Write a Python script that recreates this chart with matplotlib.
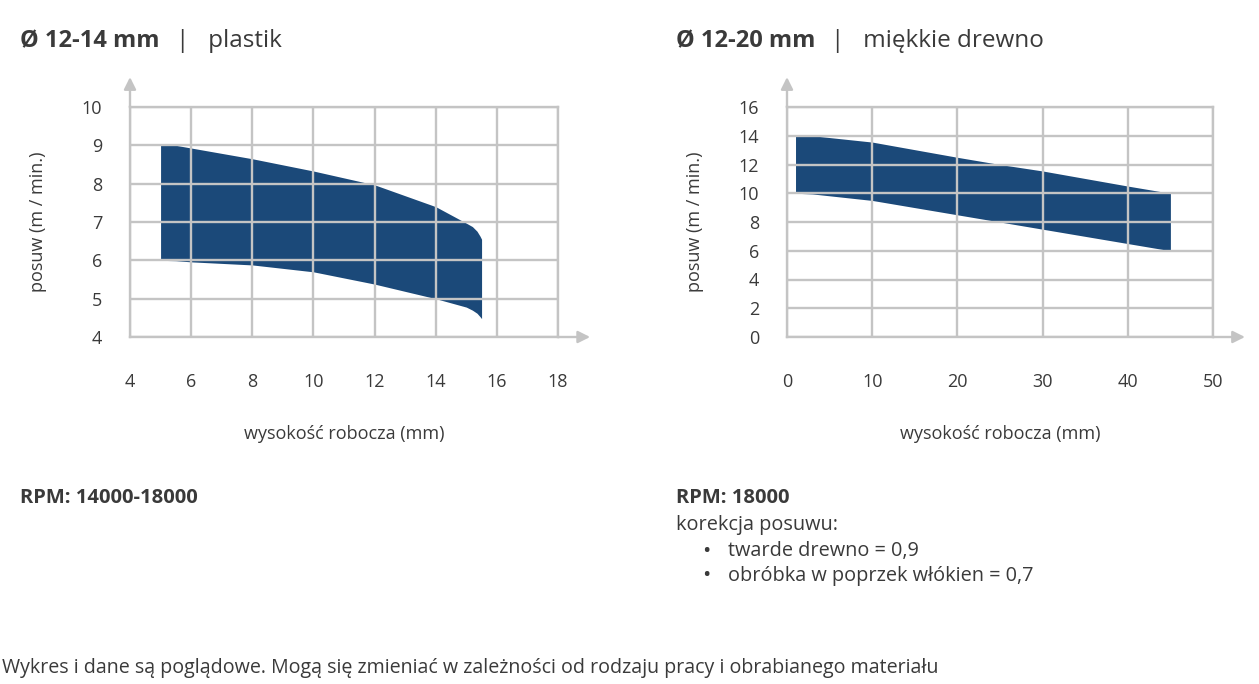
import matplotlib
matplotlib.use("Agg")
import matplotlib.pyplot as plt

plt.rcParams['font.family'] = ['Open Sans', 'DejaVu Sans']

# left chart: plastik
plastic_x = [5, 5.5, 6, 8, 10, 12, 14, 15, 15.2, 15.35, 15.45, 15.5]
plastic_upper = [9.0, 9.0, 8.93, 8.65, 8.33, 7.97, 7.4, 6.97, 6.88, 6.76, 6.63, 6.55]
plastic_lower = [6.0, 5.99, 5.96, 5.88, 5.7, 5.38, 5.0, 4.78, 4.7, 4.62, 4.53, 4.48]
plastic_xticks = [4, 6, 8, 10, 12, 14, 16, 18]
plastic_yticks = [4, 5, 6, 7, 8, 9, 10]

# right chart: miekkie drewno
wood_x = [1, 3, 10, 20, 25, 30, 40, 45]
wood_upper = [14.0, 14.0, 13.56, 12.5, 12.0, 11.55, 10.5, 10.0]
wood_lower = [10.0, 9.95, 9.5, 8.5, 8.0, 7.5, 6.5, 6.0]
wood_xticks = [0, 10, 20, 30, 40, 50]
wood_yticks = [0, 2, 4, 6, 8, 10, 12, 14, 16]

fill_color = "#1b4979"
grid_color = "#c4c4c4"
text_color = "#3a3a3a"

W, H = 1259, 684
fig = plt.figure(figsize=(W / 100, H / 100), dpi=100)


def make_chart(rect, x, lower, upper, xticks, yticks):
    ax = fig.add_axes(rect)
    ax.fill_between(x, lower, upper, color=fill_color, lw=0, zorder=1)
    ax.set_xlim(xticks[0], xticks[-1])
    ax.set_ylim(yticks[0], yticks[-1])
    ax.set_xticks(xticks)
    ax.set_yticks(yticks)
    ax.grid(True, color=grid_color, lw=1.7, zorder=2)
    ax.set_axisbelow(False)
    for s in ax.spines.values():
        s.set_color(grid_color)
        s.set_linewidth(1.7)
        s.set_zorder(3)
    ax.tick_params(length=0, labelsize=13, labelcolor=text_color)
    ax.tick_params(axis='x', pad=26)
    ax.tick_params(axis='y', pad=20)
    ax.set_xlabel("wysokość robocza (mm)", fontsize=13, color=text_color)
    ax.set_ylabel("posuw (m / min.)", fontsize=13, color=text_color)
    ax.xaxis.set_label_coords(0.5, -0.42)
    ax.xaxis.label.set_va('center')
    ax.yaxis.set_label_coords(-0.215, 0.5)
    ax.yaxis.label.set_va('center')
    # axis arrows
    arrow = dict(arrowstyle='-|>', color=grid_color, lw=1.7,
                 mutation_scale=18, shrinkA=0, shrinkB=0)
    ax.annotate('', xy=(0, 1.13), xytext=(0, 1.0), xycoords='axes fraction',
                arrowprops=arrow, annotation_clip=False)
    ax.annotate('', xy=(1.075, 0), xytext=(1.0, 0), xycoords='axes fraction',
                arrowprops=arrow, annotation_clip=False)
    return ax


bottom = 1 - 337 / H
height = 230 / H
make_chart([130 / W, bottom, 428 / W, height],
           plastic_x, plastic_lower, plastic_upper, plastic_xticks, plastic_yticks)
make_chart([787 / W, bottom, 426 / W, height],
           wood_x, wood_lower, wood_upper, wood_xticks, wood_yticks)

# titles
def title(x, bold, rest):
    t = fig.text(x / W, 1 - 41 / H, bold, fontsize=17, fontweight='bold',
                 color=text_color, va='center')
    fig.canvas.draw()
    bb = t.get_window_extent()
    fig.text((bb.x1 + 16) / W, 1 - 41 / H, "|   " + rest,
             fontsize=17.5, color=text_color, va='center')


title(20, "Ø 12-14 mm", "plastik")
title(676, "Ø 12-20 mm", "miękkie drewno")

fig.text(20 / W, 1 - 498 / H, "RPM: 14000-18000", fontsize=14.5, fontweight='bold',
         color=text_color, va='center')
fig.text(676 / W, 1 - 498 / H, "RPM: 18000", fontsize=14.5, fontweight='bold',
         color=text_color, va='center')
fig.text(676 / W, 1 - 525 / H, "korekcja posuwu:", fontsize=14.3,
         color=text_color, va='center')
for y, s in [(551, "twarde drewno = 0,9"), (576, "obróbka w poprzek włókien = 0,7")]:
    fig.text(702 / W, 1 - y / H, "•", fontsize=16, color=text_color, va='center')
    fig.text(728 / W, 1 - y / H, s, fontsize=14.3, color=text_color, va='center')

fig.text(2 / W, 1 - 668 / H,
         "Wykres i dane są poglądowe. Mogą się zmieniać w zależności od rodzaju pracy i obrabianego materiału",
         fontsize=14.1, color=text_color, va='center')

fig.savefig("out.png", dpi=100)
